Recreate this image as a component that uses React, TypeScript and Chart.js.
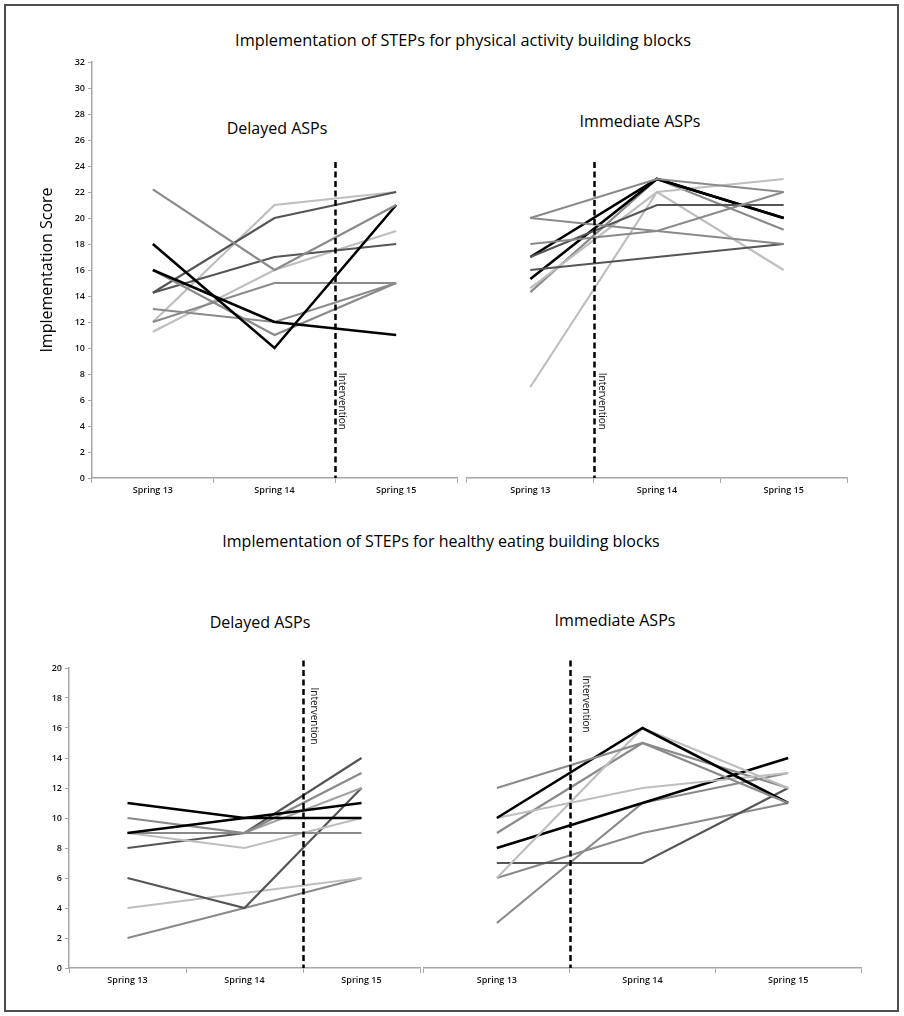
import React, { useEffect, useRef } from 'react';
import { Chart, registerables } from 'chart.js';

Chart.register(...registerables);

// ---------- data ----------
const seasons = ['Spring 13', 'Spring 14', 'Spring 15'];

// Physical activity – delayed ASPs (one row per ASP: Spring 13, 14, 15)
const paDelayed = [
  [22.2, 16, 21],
  [18, 10, 21],
  [16, 12, 11],
  [16, 11, 15],
  [14.25, 20, 22],
  [14.25, 17, 18],
  [13, 12, 15],
  [12, 15, 15],
  [12, 21, 22],
  [11.25, 16, 19],
];
const paDelayedTone = ['gray', 'black', 'black', 'gray', 'dark', 'dark', 'gray', 'gray', 'light', 'light'];

// Physical activity – immediate ASPs
const paImmediate = [
  [20, 23, 22],
  [20, 19, 18],
  [18, 19, 22],
  [17, 21, 21],
  [17, 23, 20],
  [16, 17, 18],
  [15.3, 23, 20],
  [14.6, 22, 23],
  [14.3, 23, 19.1],
  [7, 22, 16],
];
const paImmediateTone = ['gray', 'gray', 'gray', 'dark', 'black', 'dark', 'black', 'light', 'gray', 'light'];

// Healthy eating – delayed ASPs
const heDelayed = [
  [11, 10, 10],
  [9, 10, 11],
  [10, 9, 13],
  [9, 9, 9],
  [9, 8, 10],
  [8, 9, 14],
  [9, 9, 12],
  [6, 4, 12],
  [4, 5, 6],
  [2, 4, 6],
];
const heDelayedTone = ['black', 'black', 'gray', 'gray', 'light', 'dark', 'mid', 'dark', 'light', 'gray'];

// Healthy eating – immediate ASPs
const heImmediate = [
  [12, 15, 11],
  [10, 16, 11],
  [6, 16, 12],
  [10, 12, 13],
  [9, 15, 12],
  [8, 11, 14],
  [7, 7, 12],
  [6, 9, 11],
  [3, 11, 13],
];
const heImmediateTone = ['gray', 'black', 'light', 'light', 'gray', 'black', 'dark', 'gray', 'gray'];

const paMax = 32;
const heMax = 20;
const tickStep = 2;
const interventionText = 'Intervention';
const yAxisTitle = 'Implementation Score';

// ---------- styles ----------
const toneColor: Record<string, string> = {
  black: '#000000',
  dark: '#555555',
  gray: '#8a8a8a',
  mid: '#a3a3a3',
  light: '#bebebe',
};
const FONT = '"Open Sans", "Liberation Sans", sans-serif';
const axisColor = '#a6a6a6';

const interventionPlugin = {
  id: 'intervention',
  afterDatasetsDraw(chart: any, _args: any, opts: any) {
    const xs = chart.scales.x;
    const ys = chart.scales.y;
    const px = (xs.getPixelForValue(opts.after) + xs.getPixelForValue(opts.after + 1)) / 2;
    const top = ys.getPixelForValue(opts.from);
    const bottom = chart.chartArea.bottom;
    const ctx = chart.ctx;
    ctx.save();
    ctx.beginPath();
    ctx.setLineDash([6, 3.5]);
    ctx.lineWidth = 2.5;
    ctx.strokeStyle = '#000';
    ctx.moveTo(Math.round(px) + 0.5, top);
    ctx.lineTo(Math.round(px) + 0.5, bottom);
    ctx.stroke();
    ctx.setLineDash([]);
    ctx.translate(px + opts.textOffset, ys.getPixelForValue(opts.labelAt));
    ctx.rotate(Math.PI / 2);
    ctx.font = `10px ${FONT}`;
    ctx.fillStyle = '#111';
    ctx.textAlign = 'left';
    ctx.textBaseline = 'middle';
    ctx.fillText(interventionText, 0, 0);
    ctx.restore();
  },
};

type PanelProps = {
  left: number;
  top: number;
  width: number;
  height: number;
  series: number[][];
  tones: string[];
  yMax: number;
  showY: boolean;
  yWidth: number;
  xHeight: number;
  pad: { left: number; right: number; top: number };
  after: number;
  from: number;
  labelAt: number;
  textOffset: number;
  title?: string;
};

function Panel(p: PanelProps) {
  const ref = useRef<HTMLCanvasElement>(null);
  useEffect(() => {
    const chart = new Chart(ref.current as HTMLCanvasElement, {
      type: 'line',
      data: {
        labels: seasons,
        datasets: p.series.map((vals, i) => ({
          data: vals,
          borderColor: toneColor[p.tones[i]],
          borderWidth: p.tones[i] === 'black' ? 2.6 : 2.2,
          pointRadius: 0,
          fill: false,
          tension: 0,
        })),
      },
      options: {
        animation: false,
        responsive: false,
        devicePixelRatio: 1,
        layout: { padding: { left: p.pad.left, right: p.pad.right, top: p.pad.top, bottom: 0 } },
        plugins: {
          legend: { display: false },
          tooltip: { enabled: false },
          intervention: { after: p.after, from: p.from, labelAt: p.labelAt, textOffset: p.textOffset },
        } as any,
        scales: {
          x: {
            type: 'category',
            offset: true,
            border: { color: axisColor, width: 1.5 },
            grid: { offset: true, drawOnChartArea: false, drawTicks: true, tickLength: 5, color: axisColor, lineWidth: 1 },
            ticks: { color: '#111', font: { family: FONT, size: 9, weight: '600' }, padding: 2, maxRotation: 0 },
            afterFit: (s: any) => { s.height = p.xHeight; },
          },
          y: {
            display: p.showY,
            min: 0,
            max: p.yMax,
            border: { color: axisColor, width: 1.5 },
            grid: { drawOnChartArea: false, drawTicks: true, tickLength: 4, color: axisColor },
            ticks: { stepSize: tickStep, color: '#111', font: { family: FONT, size: 9, weight: '600' }, padding: 3 },
            title: p.title
              ? { display: true, text: p.title, color: '#000', font: { family: FONT, size: 16 }, padding: { top: 18, bottom: 0 } }
              : { display: false },
            afterFit: (s: any) => { s.width = p.yWidth; },
          },
        },
      } as any,
      plugins: [interventionPlugin],
    });
    return () => chart.destroy();
  }, []);
  return (
    <canvas
      ref={ref}
      width={p.width}
      height={p.height}
      style={{ position: 'absolute', left: p.left, top: p.top, width: p.width, height: p.height }}
    />
  );
}

const textStyle = (left: number, top: number, size: number): React.CSSProperties => ({
  position: 'absolute',
  left,
  top,
  transform: 'translate(-50%, -50%)',
  fontFamily: FONT,
  fontSize: size,
  color: '#000',
  whiteSpace: 'nowrap',
  lineHeight: 1,
});

export default function App() {
  return (
    <div style={{ position: 'absolute', left: 0, top: 0, width: 904, height: 1016, background: '#fff', overflow: 'hidden' }}>
      <div
        style={{
          position: 'absolute', left: 4, top: 4, width: 895, height: 1008,
          boxSizing: 'border-box', border: '2px solid #4d4d4d',
        }}
      />
      <div style={textStyle(463, 40, 16.3)}>Implementation of STEPs for physical activity building blocks</div>
      <div style={textStyle(277, 128, 16)}>Delayed ASPs</div>
      <div style={textStyle(640, 121, 16)}>Immediate ASPs</div>
      <div style={textStyle(441, 541, 16)}>Implementation of STEPs for healthy eating building blocks</div>
      <div style={textStyle(260, 622, 16)}>Delayed ASPs</div>
      <div style={textStyle(615, 620, 16)}>Immediate ASPs</div>

      <Panel left={20} top={52} width={445} height={460} series={paDelayed} tones={paDelayedTone}
        yMax={paMax} showY={true} yWidth={72} xHeight={34} pad={{ left: 0, right: 8, top: 10 }}
        after={1} from={24.3} labelAt={8.1} textOffset={7} title={yAxisTitle} />
      <Panel left={465} top={52} width={400} height={460} series={paImmediate} tones={paImmediateTone}
        yMax={paMax} showY={false} yWidth={0} xHeight={34} pad={{ left: 2, right: 18, top: 10 }}
        after={0} from={24.3} labelAt={8.1} textOffset={8} />
      <Panel left={25} top={658} width={400} height={342} series={heDelayed} tones={heDelayedTone}
        yMax={heMax} showY={true} yWidth={44} xHeight={32} pad={{ left: 0, right: 5, top: 10 }}
        after={1} from={20.5} labelAt={18.7} textOffset={11} />
      <Panel left={422} top={658} width={460} height={342} series={heImmediate} tones={heImmediateTone}
        yMax={heMax} showY={false} yWidth={0} xHeight={32} pad={{ left: 2, right: 21, top: 10 }}
        after={0} from={20.5} labelAt={19.5} textOffset={16} />
    </div>
  );
}
